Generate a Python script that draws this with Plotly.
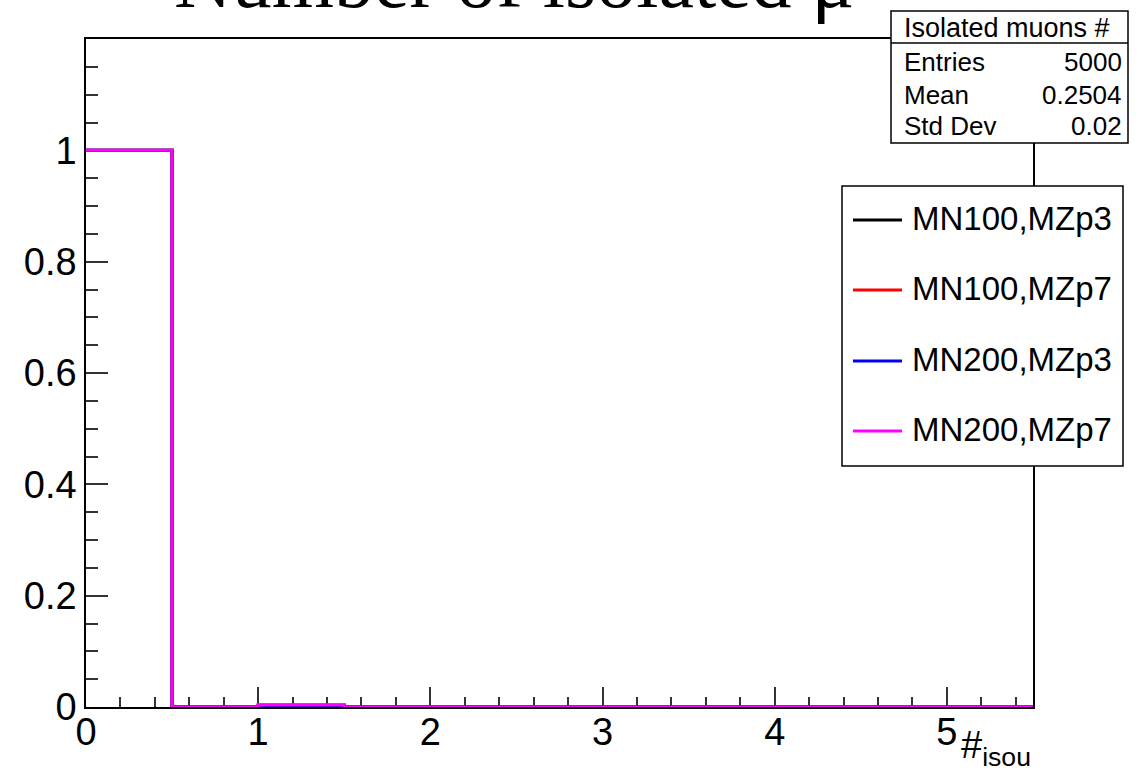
import plotly.graph_objects as go

# Histogram binning: 11 bins of width 0.5 from 0 to 5.5
bin_edges = [0.0, 0.5, 1.0, 1.5, 2.0, 2.5, 3.0, 3.5, 4.0, 4.5, 5.0, 5.5]

# Normalised bin contents for each sample
mn100_mzp3 = [1.0, 0.0, 0.0004, 0.0, 0.0, 0.0, 0.0, 0.0, 0.0, 0.0, 0.0]
mn100_mzp7 = [1.0, 0.0, 0.003, 0.0, 0.0, 0.0, 0.0, 0.0, 0.0, 0.0, 0.0]
mn200_mzp3 = [1.0, 0.0, 0.003, 0.0, 0.0, 0.0, 0.0, 0.0, 0.0, 0.0, 0.0]
mn200_mzp7 = [1.0, 0.0, 0.004, 0.0, 0.0, 0.0, 0.0, 0.0, 0.0, 0.0, 0.0]

series_names = ["MN100,MZp3", "MN100,MZp7", "MN200,MZp3", "MN200,MZp7"]
series_values = [mn100_mzp3, mn100_mzp7, mn200_mzp3, mn200_mzp7]
series_colors = ["#000000", "#ff0000", "#0000ff", "#ff00ff"]

# Statistics box contents
stats_title = "Isolated muons #"
stats_labels = ["Entries", "Mean", "Std Dev"]
stats_values = ["5000", "0.2504", "0.02"]

x_tick_vals = [0, 1, 2, 3, 4, 5]
y_tick_vals = [0, 0.2, 0.4, 0.6, 0.8, 1.0]
y_tick_text = ["0", "0.2", "0.4", "0.6", "0.8", "1"]

# ---- page geometry (pixels) ----
W, H = 1143, 778
PL, PR, PT, PB = 86, 1033, 39, 707


def px_x(p):
    return (p - PL) / (PR - PL)


def px_y(p):
    return (PB - p) / (PB - PT)


SANS = "Liberation Sans"
SERIF = "Liberation Serif"

fig = go.Figure()

for name, vals, col in zip(series_names, series_values, series_colors):
    fig.add_trace(go.Scatter(
        x=bin_edges,
        y=vals + [vals[-1]],
        mode="lines",
        line=dict(color=col, width=3, shape="hv"),
        name=name,
        showlegend=False,
        hoverinfo="skip",
    ))

shapes = []
annotations = []

# Title (partly above the page edge)
annotations.append(dict(
    text="Number of isolated μ", xref="paper", yref="paper",
    x=px_x(514), y=px_y(26), xanchor="center", yanchor="bottom",
    showarrow=False, font=dict(family=SERIF, size=80, color="black"),
))

# X-axis title with subscript
annotations.append(dict(
    text="#<sub>isou</sub>", xref="paper", yref="paper",
    x=px_x(1033), y=px_y(722), xanchor="right", yanchor="top",
    showarrow=False, font=dict(family=SANS, size=38, color="black"),
))

# Statistics box
sx0, sx1, sy0, sy1, sh = 891, 1128, 11, 143, 43
shapes.append(dict(type="rect", xref="paper", yref="paper",
                   x0=px_x(sx0), x1=px_x(sx1), y0=px_y(sy1), y1=px_y(sy0),
                   line=dict(color="black", width=1.5), fillcolor="white",
                   layer="above"))
shapes.append(dict(type="line", xref="paper", yref="paper",
                   x0=px_x(sx0), x1=px_x(sx1), y0=px_y(sh), y1=px_y(sh),
                   line=dict(color="black", width=1.5), layer="above"))
annotations.append(dict(
    text=stats_title, xref="paper", yref="paper",
    x=px_x(1007), y=px_y(28), xanchor="center", yanchor="middle",
    showarrow=False, font=dict(family=SANS, size=27, color="black"),
))
row_y = [62, 95, 126]
for lab, val, ry in zip(stats_labels, stats_values, row_y):
    annotations.append(dict(
        text=lab, xref="paper", yref="paper", x=px_x(902), y=px_y(ry),
        xanchor="left", yanchor="middle", showarrow=False,
        font=dict(family=SANS, size=26, color="black")))
    annotations.append(dict(
        text=val, xref="paper", yref="paper", x=px_x(1124), y=px_y(ry),
        xanchor="right", yanchor="middle", showarrow=False,
        font=dict(family=SANS, size=26, color="black")))

# Legend box
lx0, lx1, ly0, ly1 = 842, 1123, 186, 466
shapes.append(dict(type="rect", xref="paper", yref="paper",
                   x0=px_x(lx0), x1=px_x(lx1), y0=px_y(ly1), y1=px_y(ly0),
                   line=dict(color="black", width=1.5), fillcolor="white",
                   layer="above"))
entry_y = [220, 290, 361, 431]
for name, col, ey in zip(series_names, series_colors, entry_y):
    shapes.append(dict(type="line", xref="paper", yref="paper",
                       x0=px_x(853), x1=px_x(902), y0=px_y(ey), y1=px_y(ey),
                       line=dict(color=col, width=3), layer="above"))
    annotations.append(dict(
        text=name, xref="paper", yref="paper", x=px_x(910), y=px_y(ey - 2),
        xanchor="left", yanchor="middle", showarrow=False,
        font=dict(family=SANS, size=33, color="black")))

fig.update_layout(
    width=W, height=H,
    margin=dict(l=PL, r=W - PR, t=PT, b=H - PB, pad=0),
    paper_bgcolor="white", plot_bgcolor="white",
    showlegend=False,
    shapes=shapes, annotations=annotations,
    font=dict(family=SANS, color="black"),
)

fig.update_xaxes(
    range=[0, 5.5], showgrid=False, zeroline=False,
    showline=True, linecolor="black", linewidth=1.5, mirror=True,
    ticks="inside", ticklen=20, tickwidth=1.5, tickcolor="#333333",
    tickvals=x_tick_vals, tickfont=dict(family=SANS, size=38, color="black"),
    ticklabelstandoff=-9,
    minor=dict(ticks="inside", dtick=0.2, ticklen=10, tickwidth=1.5, tickcolor="#333333"),
    layer="below traces", fixedrange=True,
)
fig.update_yaxes(
    range=[0, 1.2], showgrid=False, zeroline=False,
    showline=True, linecolor="black", linewidth=1.5, mirror=True,
    ticks="inside", ticklen=22, tickwidth=1.5, tickcolor="#333333",
    tickvals=y_tick_vals, ticktext=y_tick_text,
    tickfont=dict(family=SANS, size=38, color="black"),
    minor=dict(ticks="inside", dtick=0.05, ticklen=12, tickwidth=1.5, tickcolor="#333333"),
    layer="below traces", fixedrange=True,
)

fig.write_html("out.html")
